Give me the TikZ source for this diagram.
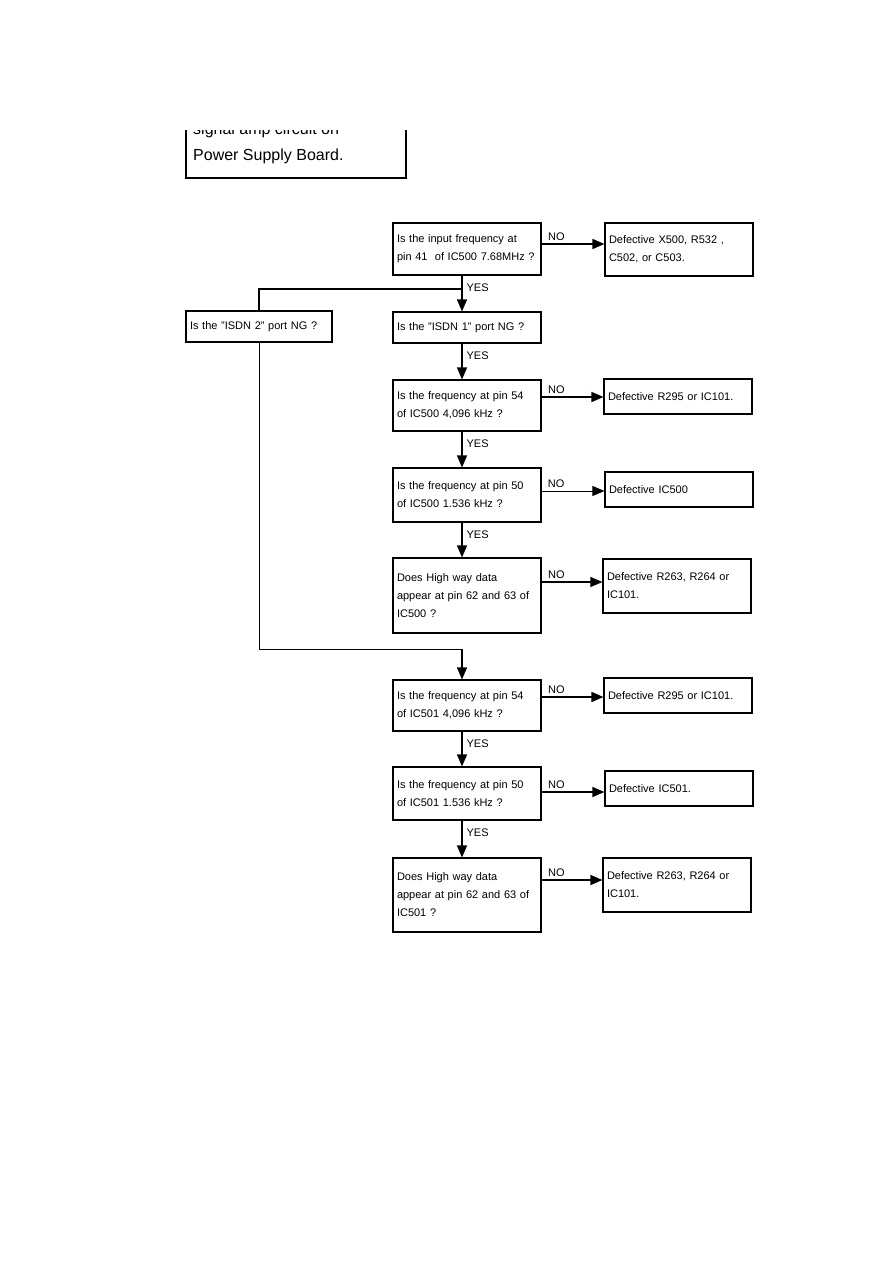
\documentclass[tikz,border=0pt]{standalone}
\usepackage{fontspec}
\setmainfont{Liberation Sans}
\usetikzlibrary{arrows.meta}

\begin{document}
\begin{tikzpicture}[x=1pt, y=-1pt,
    qbox/.style={draw, line width=1.1pt, minimum width=148pt, text width=140pt,
      inner xsep=4pt, align=left, font=\fontsize{11}{18}\selectfont},
    dbox/.style={draw, line width=1.1pt, minimum width=148pt, text width=140pt,
      inner xsep=4pt, align=left, font=\fontsize{11}{18}\selectfont},
    conn/.style={line width=1.3pt},
    arr/.style={conn, -{Triangle[length=12pt, width=10pt]}},
    yeslbl/.style={anchor=west, xshift=3pt, yshift=-12pt, inner sep=1pt,
      font=\fontsize{11}{13}\selectfont},
    nolbl/.style={anchor=base west, xshift=5pt, yshift=4pt, inner sep=1pt,
      font=\fontsize{11}{13}\selectfont}]
    \useasboundingbox (0,0) rectangle (893,1263);

    % Box cut off at the top of the page
    \begin{scope}
      \clip (0,130) rectangle (893,1263);
      \draw[line width=1.8pt] (186,110) -- (186,178) -- (406,178) -- (406,110);
      \node[anchor=base west, inner sep=0, font=\fontsize{16}{20}\selectfont] (tsig) at (193,134) {signal amp circuit on};
      \node[anchor=base west, inner sep=0, font=\fontsize{16}{20}\selectfont] (tpower) at (193,160.5) {Power Supply Board.};
    \end{scope}

    % Questions
    \node[qbox, minimum height=52pt] (q1) at (467,249) {Is the input frequency at\\pin 41 \ of IC500 7.68MHz ?};
    \node[qbox, minimum height=31pt] (i1) at (467,327.5) {Is the "ISDN 1" port NG ?};
    \node[qbox, minimum width=146pt, text width=138pt, minimum height=31pt] (i2) at (259,326.5) {Is the "ISDN 2" port NG ?};
    \node[qbox, minimum height=51pt] (q2) at (467,405.5) {Is the frequency at pin 54\\of IC500 4,096 kHz ?};
    \node[qbox, minimum height=54pt] (q3) at (467,495) {Is the frequency at pin 50\\of IC500 1.536 kHz ?};
    \node[qbox, minimum height=75pt] (q4) at (467,595.5) {Does High way data\\appear at pin 62 and 63 of\\IC500 ?};
    \node[qbox, minimum height=51pt] (q5) at (467,705.5) {Is the frequency at pin 54\\of IC501 4,096 kHz ?};
    \node[qbox, minimum height=53pt] (q6) at (467,793.5) {Is the frequency at pin 50\\of IC501 1.536 kHz ?};
    \node[qbox, minimum height=74pt] (q7) at (467,895) {Does High way data\\appear at pin 62 and 63 of\\IC501 ?};

    % Results
    \node[dbox, minimum height=53pt] (d1) at (679,249.5) {Defective X500, R532 ,\\C502, or C503.};
    \node[dbox, minimum height=35pt] (d2) at (678,396.5) {Defective R295 or IC101.};
    \node[dbox, minimum height=35pt] (d3) at (679,489.5) {Defective IC500};
    \node[dbox, minimum height=54pt] (d4) at (677,586) {Defective R263, R264 or\\IC101.};
    \node[dbox, minimum height=35pt] (d5) at (678,695.5) {Defective R295 or IC101.};
    \node[dbox, minimum height=35pt] (d6) at (679,788.5) {Defective IC501.};
    \node[dbox, minimum height=54pt] (d7) at (677,885) {Defective R263, R264 or\\IC101.};

    % YES path
    \coordinate (spine) at (462,0);
    \coordinate (jn) at (462,289);
    \coordinate (mg) at (462,649);
    \draw[arr] (q1.south -| spine) -- (i1.north -| spine) node[yeslbl, at start] (yes1) {YES};
    \draw[arr] (i1.south -| spine) -- (q2.north -| spine) node[yeslbl, at start] (yes2) {YES};
    \draw[arr] (q2.south -| spine) -- (q3.north -| spine) node[yeslbl, at start] (yes3) {YES};
    \draw[arr] (q3.south -| spine) -- (q4.north -| spine) node[yeslbl, at start] (yes4) {YES};
    \draw[arr] (q5.south -| spine) -- (q6.north -| spine) node[yeslbl, at start] (yes5) {YES};
    \draw[arr] (q6.south -| spine) -- (q7.north -| spine) node[yeslbl, at start] (yes6) {YES};

    % ISDN 2 branch
    \draw[conn] (jn) -| (i2.north);
    \draw[line width=1pt] (i2.south) |- (mg);
    \draw[arr] (mg) -- (q5.north -| spine);

    % NO path
    \draw[arr] (q1.east |- 0,244) -- (d1.west |- 0,244) node[nolbl, at start] (no1) {NO};
    \draw[arr] (q2.east |- 0,397) -- (d2.west |- 0,397) node[nolbl, at start] (no2) {NO};
    \draw[arr, line width=0.6pt] (q3.east |- 0,491) -- (d3.west |- 0,491) node[nolbl, at start] (no3) {NO};
    \draw[arr] (q4.east |- 0,582) -- (d4.west |- 0,582) node[nolbl, at start] (no4) {NO};
    \draw[arr] (q5.east |- 0,697) -- (d5.west |- 0,697) node[nolbl, at start] (no5) {NO};
    \draw[arr] (q6.east |- 0,792) -- (d6.west |- 0,792) node[nolbl, at start] (no6) {NO};
    \draw[arr] (q7.east |- 0,880) -- (d7.west |- 0,880) node[nolbl, at start] (no7) {NO};
  \end{tikzpicture}
\end{document}
